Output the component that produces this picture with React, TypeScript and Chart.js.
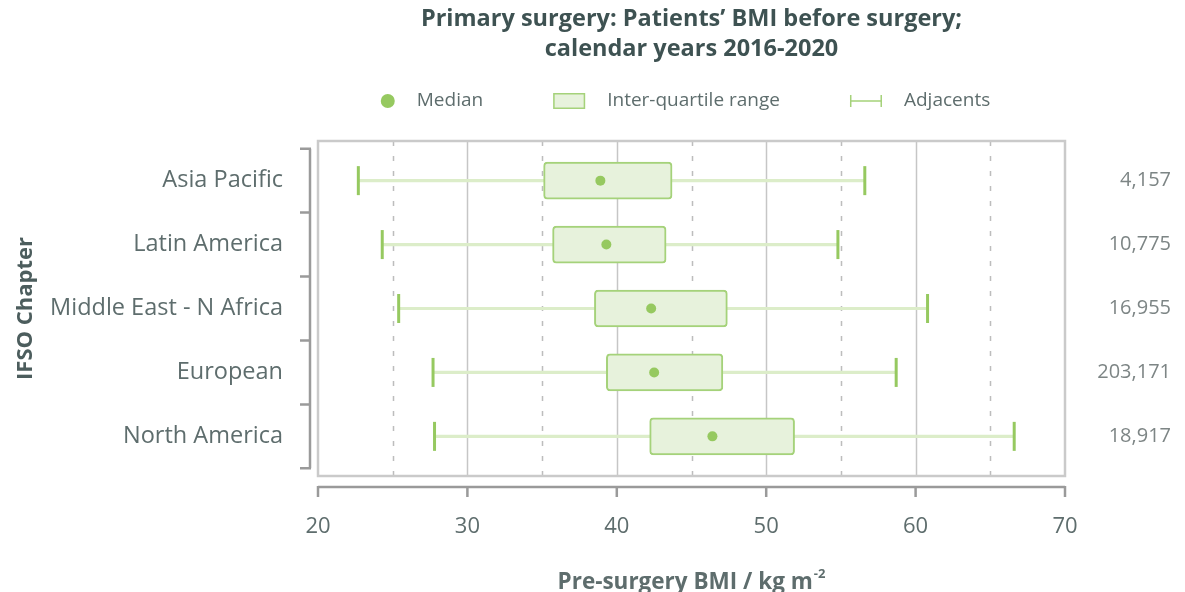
import React, { useEffect, useRef } from 'react';
import { Chart, registerables } from 'chart.js';

Chart.register(...registerables);

// ---------- data ----------
const categories = ['Asia Pacific', 'Latin America', 'Middle East - N Africa', 'European', 'North America'];
const lowerAdjacent = [22.7, 24.3, 25.4, 27.7, 27.8];
const lowerQuartile = [35.1, 35.7, 38.5, 39.3, 42.2];
const medians = [38.9, 39.3, 42.3, 42.5, 46.4];
const upperQuartile = [43.7, 43.3, 47.4, 47.1, 51.9];
const upperAdjacent = [56.6, 54.8, 60.8, 58.7, 66.6];
const patientCounts = ['4,157', '10,775', '16,955', '203,171', '18,917'];
const xTickValues = [20, 30, 40, 50, 60, 70];
const titleLines = ['Primary surgery: Patients\u2019 BMI before surgery;', 'calendar years 2016-2020'];
const legendLabels = ['Median', 'Inter-quartile range', 'Adjacents'];
const xTitleMain = 'Pre-surgery BMI / kg m';
const xTitleSup = '-2';
const yTitle = 'IFSO Chapter';

// ---------- style ----------
const FONT = "'Open Sans', sans-serif";
const GREEN = '#96c960';
const BOX_FILL = '#e7f2dc';
const BOX_BORDER = '#a5d27a';
const WHISKER = '#dcedc9';
const TITLE_COLOR = '#3e5252';
const LABEL_COLOR = '#5e6d6d';
const COUNT_COLOR = '#7d8585';
const FRAME_COLOR = '#cacaca';
const AXIS_COLOR = '#9a9a9a';

const decorPlugin = {
  id: 'decor',
  beforeDatasetsDraw(chart: any) {
    const { ctx, chartArea: a, scales } = chart;
    const x = scales.x;
    ctx.save();
    // vertical grid: solid at tens, dashed at fives
    for (let v = x.min + 5; v < x.max; v += 5) {
      const px = Math.round(x.getPixelForValue(v)) + 0.5;
      ctx.beginPath();
      ctx.lineWidth = 1.5;
      if (v % 10 === 0) {
        ctx.setLineDash([]);
        ctx.strokeStyle = '#c6c6c6';
      } else {
        ctx.setLineDash([5, 10]);
        ctx.strokeStyle = '#bdbdbd';
      }
      ctx.moveTo(px, a.top);
      ctx.lineTo(px, a.bottom);
      ctx.stroke();
    }
    ctx.setLineDash([]);
    // plot frame
    ctx.strokeStyle = FRAME_COLOR;
    ctx.lineWidth = 2.5;
    ctx.strokeRect(a.left, a.top, a.right - a.left, a.bottom - a.top);
    ctx.restore();
  },
  afterDraw(chart: any) {
    const { ctx, chartArea: a, scales } = chart;
    const x = scales.x;
    const y = scales.y;
    ctx.save();
    ctx.strokeStyle = AXIS_COLOR;
    ctx.lineWidth = 2.5;
    // category bracket on the left
    const bx = a.left - 8;
    const yTop = y.getPixelForValue(-0.5);
    const yBot = y.getPixelForValue(categories.length - 0.5);
    ctx.beginPath();
    ctx.moveTo(bx, yTop);
    ctx.lineTo(bx, yBot);
    for (let k = 0; k <= categories.length; k++) {
      const py = y.getPixelForValue(k - 0.5);
      ctx.moveTo(bx + 1, py);
      ctx.lineTo(bx - 10, py);
    }
    ctx.stroke();
    // detached x axis line with ticks
    const ly = a.bottom + 11;
    ctx.beginPath();
    ctx.moveTo(x.getPixelForValue(x.min), ly);
    ctx.lineTo(x.getPixelForValue(x.max), ly);
    for (const t of x.ticks) {
      const px = x.getPixelForValue(t.value);
      ctx.moveTo(px, ly - 1);
      ctx.lineTo(px, ly + 10);
    }
    ctx.stroke();

    // x axis title with superscript
    ctx.fillStyle = LABEL_COLOR;
    ctx.textBaseline = 'alphabetic';
    ctx.textAlign = 'left';
    const mainFont = `bold 22.5px ${FONT}`;
    const supFont = `bold 13px ${FONT}`;
    ctx.font = mainFont;
    const w1 = ctx.measureText(xTitleMain).width;
    ctx.font = supFont;
    const w2 = ctx.measureText(xTitleSup).width;
    const cx = (a.left + a.right) / 2;
    const start = cx - (w1 + w2 + 1) / 2;
    const base = 589;
    ctx.font = mainFont;
    ctx.fillText(xTitleMain, start, base);
    ctx.font = supFont;
    ctx.fillText(xTitleSup, start + w1 + 1, base - 11);

    // legend (median dot, IQR box, adjacents whisker)
    const legY = 101;
    ctx.font = `19px ${FONT}`;
    ctx.textBaseline = 'middle';
    const tw = legendLabels.map((t) => ctx.measureText(t).width);
    const lead = [36, 54, 54];
    const gap = 70;
    const total = lead[0] + lead[1] + lead[2] + tw[0] + tw[1] + tw[2] + 2 * gap;
    let sx = cx - 6 - total / 2;
    // median
    ctx.fillStyle = GREEN;
    ctx.beginPath();
    ctx.arc(sx + 7, legY, 7, 0, Math.PI * 2);
    ctx.fill();
    ctx.fillStyle = LABEL_COLOR;
    ctx.fillText(legendLabels[0], sx + lead[0], legY);
    sx += lead[0] + tw[0] + gap;
    // IQR box
    ctx.fillStyle = BOX_FILL;
    ctx.fillRect(sx, legY - 8, 32, 16);
    ctx.strokeStyle = BOX_BORDER;
    ctx.lineWidth = 1.5;
    ctx.strokeRect(sx + 0.75, legY - 7.25, 30.5, 14.5);
    ctx.fillStyle = LABEL_COLOR;
    ctx.fillText(legendLabels[1], sx + lead[1], legY);
    sx += lead[1] + tw[1] + gap;
    // adjacents
    ctx.strokeStyle = BOX_BORDER;
    ctx.lineWidth = 1.5;
    ctx.beginPath();
    ctx.moveTo(sx, legY);
    ctx.lineTo(sx + 32, legY);
    ctx.moveTo(sx + 0.75, legY - 6);
    ctx.lineTo(sx + 0.75, legY + 6);
    ctx.moveTo(sx + 31.25, legY - 6);
    ctx.lineTo(sx + 31.25, legY + 6);
    ctx.stroke();
    ctx.fillStyle = LABEL_COLOR;
    ctx.fillText(legendLabels[2], sx + lead[2], legY);
    ctx.restore();
  },
};

export default function App() {
  const ref = useRef<HTMLCanvasElement | null>(null);

  useEffect(() => {
    if (!ref.current) return;
    Chart.defaults.font.family = FONT;
    const yMin = -0.62;
    const yMax = categories.length - 1 + 0.62;

    const chart = new Chart(ref.current, {
      type: 'bar',
      data: {
        datasets: [
          {
            type: 'bar',
            label: 'Adjacents',
            indexAxis: 'y',
            grouped: false,
            xAxisID: 'x',
            yAxisID: 'y',
            data: categories.map((_, i) => ({ x: [lowerAdjacent[i], upperAdjacent[i]], y: i })),
            backgroundColor: WHISKER,
            borderWidth: 0,
            barThickness: 2.5,
            order: 3,
          },
          {
            type: 'bar',
            label: 'Inter-quartile range',
            indexAxis: 'y',
            grouped: false,
            xAxisID: 'x',
            yAxisID: 'y',
            data: categories.map((_, i) => ({ x: [lowerQuartile[i], upperQuartile[i]], y: i })),
            backgroundColor: BOX_FILL,
            borderColor: BOX_BORDER,
            borderWidth: 2,
            borderRadius: 4,
            borderSkipped: false,
            barThickness: 37,
            order: 2,
          },
          {
            type: 'scatter',
            label: 'Adjacent caps',
            xAxisID: 'x',
            yAxisID: 'y',
            data: categories.flatMap((_, i) => [
              { x: lowerAdjacent[i], y: i },
              { x: upperAdjacent[i], y: i },
            ]),
            showLine: false,
            pointStyle: 'line',
            pointRotation: 90,
            pointRadius: 14.5,
            pointHoverRadius: 14.5,
            pointBorderColor: GREEN,
            pointBorderWidth: 3,
            order: 1,
          },
          {
            type: 'scatter',
            label: 'Median',
            xAxisID: 'x',
            yAxisID: 'y',
            data: categories.map((_, i) => ({ x: medians[i], y: i })),
            showLine: false,
            pointStyle: 'circle',
            pointRadius: 5,
            pointHoverRadius: 5,
            pointBackgroundColor: GREEN,
            pointBorderWidth: 0,
            order: 0,
          },
        ] as any,
      },
      options: {
        responsive: true,
        maintainAspectRatio: false,
        animation: false,
        events: [],
        layout: { padding: { left: 0, right: 14, top: 0, bottom: 0 } },
        scales: {
          x: {
            type: 'linear',
            position: 'bottom',
            offset: false,
            min: xTickValues[0],
            max: xTickValues[xTickValues.length - 1],
            bounds: 'data',
            afterBuildTicks: (s: any) => {
              s.ticks = xTickValues.map((v) => ({ value: v }));
            },
            afterFit: (s: any) => {
              s.height = 116;
            },
            grid: { display: false, drawTicks: false },
            border: { display: false },
            ticks: {
              padding: 37.5,
              color: LABEL_COLOR,
              font: { size: 22 },
              maxRotation: 0,
              autoSkip: false,
            },
          },
          y: {
            type: 'linear',
            position: 'left',
            offset: false,
            reverse: true,
            min: yMin,
            max: yMax,
            bounds: 'data',
            afterBuildTicks: (s: any) => {
              s.ticks = categories.map((_, i) => ({ value: i }));
            },
            afterFit: (s: any) => {
              s.width = 318;
            },
            grid: { display: false, drawTicks: false },
            border: { display: false },
            ticks: {
              padding: 35,
              color: LABEL_COLOR,
              font: { size: 23.5 },
              autoSkip: false,
              callback: (v: any) => categories[v] ?? '',
            },
            title: {
              display: true,
              text: yTitle,
              color: '#4c5d5d',
              font: { size: 22, weight: 'bold' },
              padding: { top: 13, bottom: 0 },
            },
          },
          y2: {
            type: 'linear',
            position: 'right',
            offset: false,
            reverse: true,
            min: yMin,
            max: yMax,
            bounds: 'data',
            afterBuildTicks: (s: any) => {
              s.ticks = categories.map((_, i) => ({ value: i }));
            },
            afterFit: (s: any) => {
              s.width = 106;
            },
            grid: { display: false, drawTicks: false },
            border: { display: false },
            ticks: {
              crossAlign: 'far',
              padding: 0,
              color: COUNT_COLOR,
              font: { size: 20 },
              autoSkip: false,
              callback: (v: any) => patientCounts[v] ?? '',
            },
          },
        } as any,
        plugins: {
          title: {
            display: true,
            text: titleLines,
            color: TITLE_COLOR,
            fullSize: false,
            font: { size: 23.5, weight: 'bold', lineHeight: 30 / 23.5 },
            padding: { top: 4, bottom: 77 },
          },
          legend: { display: false },
          tooltip: { enabled: false },
        },
      } as any,
      plugins: [decorPlugin],
    });

    return () => chart.destroy();
  }, []);

  return (
    <div style={{ position: 'fixed', left: 0, top: 0, width: 1185, height: 592, background: '#ffffff' }}>
      <canvas ref={ref} />
    </div>
  );
}
